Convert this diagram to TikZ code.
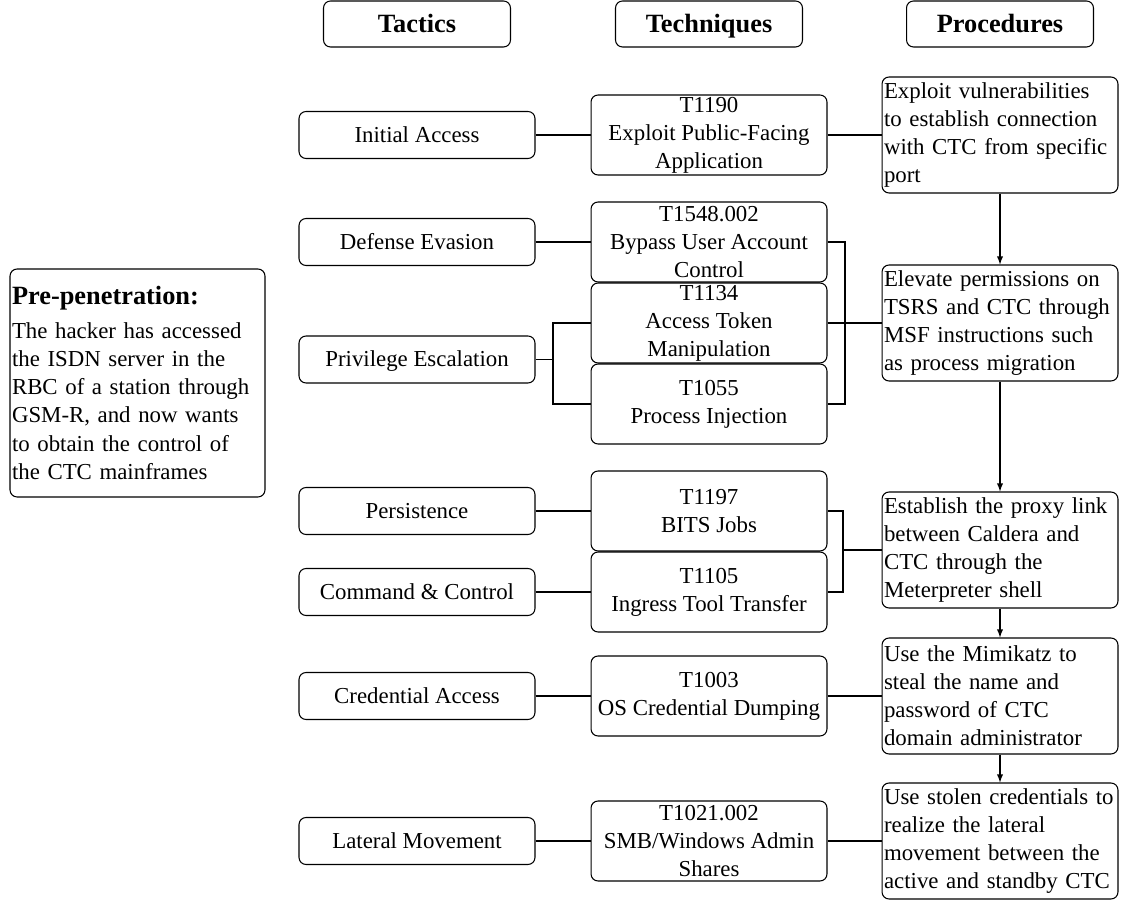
\documentclass[tikz,border=0pt]{standalone}
\usepackage{fontspec}
\setmainfont{Liberation Serif}
\usetikzlibrary{arrows}

\tikzset{
  box/.style={draw, rounded corners=4pt, line width=0.6pt, align=center},
  hdr/.style={box, minimum width=3.74cm, minimum height=0.92cm, text height=13pt, text depth=3pt,
    font=\fontsize{15}{18}\selectfont\bfseries},
  tac/.style={box, minimum width=4.72cm, minimum height=0.94cm, text height=11.5pt, text depth=3pt,
    font=\fontsize{13}{15.9}\selectfont},
  tec/.style={box, minimum width=4.72cm, minimum height=1.6cm,
    inner xsep=0.04cm, inner ysep=0pt, font=\fontsize{13}{15.9}\selectfont},
  pro/.style={box, align=left, minimum width=4.72cm, minimum height=2.32cm, text width=4.64cm,
    inner xsep=0.04cm, inner ysep=0pt, font=\fontsize{13}{15.9}\selectfont},
  link/.style={line width=0.6pt},
}

\begin{document}
\begin{tikzpicture}[x=0.02cm, y=-0.02cm, >=latex]
    \useasboundingbox (0,0) rectangle (1133,908);
    % headers
    \node [hdr] (htac) at (417,24) {Tactics};
    \node [hdr] (htec) at (709,24) {Techniques};
    \node [hdr] (hpro) at (1000,24) {Procedures};
    % scenario
    \node [box, align=left, minimum width=5.1cm, minimum height=4.56cm, text width=5.02cm,
      inner xsep=0.04cm, font=\fontsize{13}{16.1}\selectfont] (pre) at (137.5,383)
      {{\fontsize{15}{18}\selectfont\bfseries Pre-penetration:}\\[3pt]
       The hacker has accessed\\ the ISDN server in the\\ RBC of a station through\\
       GSM-R, and now wants\\ to obtain the control of\\ the CTC mainframes};
    % tactics
    \node [tac] (tac1) at (417,135) {Initial Access};
    \node [tac] (tac2) at (417,242) {Defense Evasion};
    \node [tac] (tac3) at (417,359.5) {Privilege Escalation};
    \node [tac] (tac4) at (417,511) {Persistence};
    \node [tac] (tac5) at (417,592) {Command \& Control};
    \node [tac] (tac6) at (417,696) {Credential Access};
    \node [tac] (tac7) at (417,841) {Lateral Movement};
    % techniques
    \node [tec] (tec1) at (709,135) {T1190\\ Exploit Public-Facing\\ Application};
    \node [tec] (tec2) at (709,242) {T1548.002\\ Bypass User Account\\ Control};
    \node [tec] (tec3) at (709,323) {T1134\\ Access Token\\ Manipulation};
    \node [tec] (tec4) at (709,404) {T1055\\ Process Injection};
    \node [tec] (tec5) at (709,511) {T1197\\ BITS Jobs};
    \node [tec] (tec6) at (709,592) {T1105\\ Ingress Tool Transfer};
    \node [tec] (tec7) at (709,696) {T1003\\ OS Credential Dumping};
    \node [tec] (tec8) at (709,841) {T1021.002\\ SMB/Windows Admin\\ Shares};
    % procedures
    \node [pro] (pro1) at (1000,135) {Exploit vulnerabilities\\ to establish connection\\ with CTC from specific\\ port};
    \node [pro] (pro2) at (1000,323) {Elevate permissions on\\ TSRS and CTC through\\ MSF instructions such\\ as process migration};
    \node [pro] (pro3) at (1000,550) {Establish the proxy link\\ between Caldera and\\ CTC through the\\ Meterpreter shell};
    \node [pro] (pro4) at (1000,696) {Use the Mimikatz to\\ steal the name and\\ password of CTC\\ domain administrator};
    \node [pro] (pro5) at (1000,841) {Use stolen credentials to\\ realize the lateral\\ movement between the\\ active and standby CTC};
    % tactic -> technique
    \coordinate (pe) at (553,359.5);
    \draw [link] (tac1) -- (tec1);
    \draw [link] (tac2) -- (tec2);
    \draw [link] (tac3) -- (pe);
    \draw [link] (tec3.west) -| (pe) |- (tec4.west);
    \draw [link] (tac4) -- (tec5);
    \draw [link] (tac5) -- (tec6);
    \draw [link] (tac6) -- (tec7);
    \draw [link] (tac7) -- (tec8);
    % technique -> procedure
    \coordinate (rb1) at (845,323);
    \coordinate (rb2) at (843,550);
    \draw [link] (tec1) -- (pro1);
    \draw [link] (tec2.east) -| (rb1) |- (tec4.east);
    \draw [link] (tec3) -- (pro2);
    \draw [link] (tec5.east) -| (rb2) |- (tec6.east);
    \draw [link] (rb2) -- (pro3.west);
    \draw [link] (tec7) -- (pro4);
    \draw [link] (tec8) -- (pro5);
    % procedure flow
    \draw [link,->] (pro1) -- (pro2);
    \draw [link,->] (pro2) -- (pro3);
    \draw [link,->] (pro3) -- (pro4);
    \draw [link,->] (pro4) -- (pro5);
\end{tikzpicture}
\end{document}
